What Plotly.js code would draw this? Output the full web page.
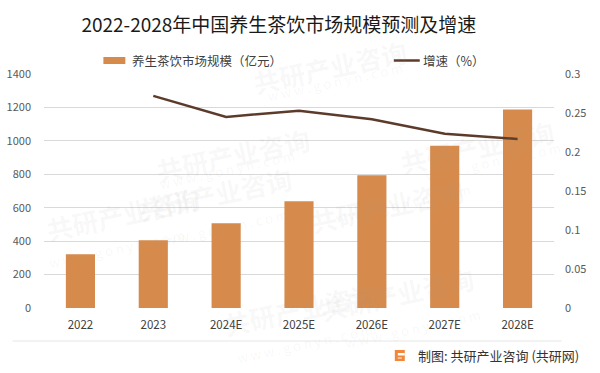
<!DOCTYPE html>
<html>
<head>
<meta charset="utf-8">
<script src="https://cdn.plot.ly/plotly-3.0.1.min.js"></script>
<style>html,body{margin:0;padding:0;background:#fff;}#chart{width:600px;height:373px;}</style>
</head>
<body>
<div id="chart"></div>
<script>
const categories = ["2022", "2023", "2024E", "2025E", "2026E", "2027E", "2028E"];
const marketSize = [321, 405, 507, 638, 794, 971, 1187];
const growthCats = ["2023", "2024E", "2025E", "2026E", "2027E", "2028E"];
const growthRate = [0.272, 0.245, 0.253, 0.242, 0.2235, 0.2167];
const leftTicks = [0, 200, 400, 600, 800, 1000, 1200, 1400];
const rightTicks = [0, 0.05, 0.1, 0.15, 0.2, 0.25, 0.3];
const rightTickText = ["0", "0.05", "0.1", "0.15", "0.2", "0.25", "0.3"];
const barName = "养生茶饮市场规模（亿元）";
const lineName = "增速（%）";
const titleText = "2022-2028年中国养生茶饮市场规模预测及增速";
const sourceText = "制图: 共研产业咨询 (共研网)";

const W = 600, H = 373;
const L = 43.5, R = 45.5, T = 74, B = 65;
const pw = W - L - R, ph = H - T - B;
const px = x => (x - L) / pw;
const py = y => (H - B - y) / ph;

const FONT = "'Noto Sans CJK SC', 'Liberation Sans', sans-serif";
const barColor = "#D68B4C";
const lineColor = "#5C3B2A";

const traces = [
  {
    type: "bar", x: categories, y: marketSize, name: barName,
    marker: {color: barColor}, hoverinfo: "skip"
  },
  {
    type: "scatter", mode: "lines", x: growthCats, y: growthRate, name: lineName,
    yaxis: "y2", line: {color: lineColor, width: 2.5}, hoverinfo: "skip"
  }
];

const wm = [];
const wmPos = [[150,118],[330,30],[215,230],[470,205],[560,110],[40,250],[300,345],[480,330]];
wmPos.forEach(p => {
  wm.push({xref:"paper", yref:"paper", x:px(p[0]), y:py(p[1]), text:"<b>共研产业咨询</b>", showarrow:false,
    font:{family:FONT, size:26, color:"rgba(150,150,150,0.07)"}, textangle:-12});
  wm.push({xref:"paper", yref:"paper", x:px(p[0]+5), y:py(p[1]+25), text:"w w w . g o n y n . c o m", showarrow:false,
    font:{family:FONT, size:13, color:"rgba(150,150,150,0.07)"}, textangle:-12});
});

const layout = {
  width: W, height: H,
  margin: {l: L, r: R, t: T, b: B, pad: 0},
  paper_bgcolor: "#fff", plot_bgcolor: "#fff",
  showlegend: false,
  bargap: 0.6,
  font: {family: FONT, color: "#595959", size: 11},
  title: {text: titleText, x: px(281), xanchor: "center", y: 1 - 25.5 / H, yanchor: "middle",
    font: {family: FONT, size: 19, color: "#1a1a1a"}},
  xaxis: {
    type: "category", showgrid: false, zeroline: false, showline: false,
    ticks: "", tickfont: {size: 11.5, color: "#404040"}, ticklabelstandoff: 8
  },
  yaxis: {
    range: [0, 1400], tickvals: leftTicks, showgrid: true, gridcolor: "#D9D9D9", gridwidth: 1,
    zeroline: false, showline: false, ticks: "", tickfont: {size: 11, color: "#595959"},
    ticklabelstandoff: 12
  },
  yaxis2: {
    overlaying: "y", side: "right", range: [0, 0.3], tickvals: rightTicks, ticktext: rightTickText,
    showgrid: false, zeroline: false, showline: false, ticks: "", tickfont: {size: 11, color: "#595959"},
    ticklabelstandoff: 10
  },
  shapes: [
    {type: "rect", xref: "paper", yref: "paper", x0: px(103), x1: px(125), y0: py(64), y1: py(57),
      fillcolor: barColor, line: {width: 0}},
    {type: "line", xref: "paper", yref: "paper", x0: px(394), x1: px(420), y0: py(60.5), y1: py(60.5),
      line: {color: lineColor, width: 2.5}},
    {type: "line", xref: "paper", yref: "paper", x0: px(12), x1: px(562), y0: py(341), y1: py(341),
      line: {color: "#E6E6E6", width: 1}},
    {type: "rect", xref: "paper", yref: "paper", x0: px(395), x1: px(405), y0: py(361), y1: py(350),
      fillcolor: "#F2873A", line: {width: 0}},
    {type: "rect", xref: "paper", yref: "paper", x0: px(398), x1: px(405), y0: py(355.5), y1: py(353),
      fillcolor: "#ffffff", line: {width: 0}},
    {type: "rect", xref: "paper", yref: "paper", x0: px(398), x1: px(402), y0: py(358.5), y1: py(357.5),
      fillcolor: "#ffffff", line: {width: 0}}
  ],
  annotations: wm.concat([
    {xref: "paper", yref: "paper", x: px(130), y: py(60.5), xanchor: "left", yanchor: "middle",
      text: barName, showarrow: false, font: {family: FONT, size: 12.5, color: "#404040"}},
    {xref: "paper", yref: "paper", x: px(421), y: py(60.5), xanchor: "left", yanchor: "middle",
      text: lineName, showarrow: false, font: {family: FONT, size: 12.5, color: "#404040"}},
    {xref: "paper", yref: "paper", x: px(416), y: py(355.5), xanchor: "left", yanchor: "middle",
      text: sourceText, showarrow: false, font: {family: FONT, size: 13, color: "#333333"}}
  ])
};

Plotly.newPlot("chart", traces, layout, {displayModeBar: false, staticPlot: true});
</script>
</body>
</html>
